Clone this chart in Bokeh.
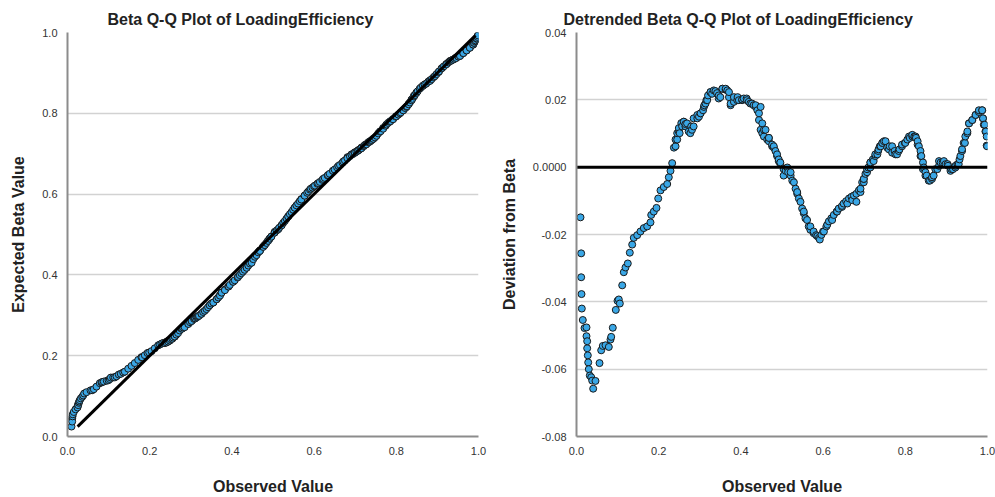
from bokeh.plotting import figure
from bokeh.layouts import row
from bokeh.models import Span, FixedTicker, PrintfTickFormatter, ColumnDataSource
from bokeh.embed import file_html
from bokeh.resources import INLINE

# Observed values and their deviation from the fitted Beta quantiles,
# read from the detrended plot (first pass: whole curve)
observed_a = [
    0.0097, 0.0114, 0.0114, 0.0122, 0.0129, 0.0153, 0.0195, 0.0243, 0.0243, 0.0260,
    0.0260, 0.0275, 0.0285, 0.0299, 0.0324, 0.0358, 0.0382, 0.0406, 0.0462, 0.0560,
    0.0601, 0.0640, 0.0706, 0.0786, 0.0827, 0.0844, 0.0883, 0.0956, 0.0998, 0.1029,
    0.1054, 0.1112, 0.1151, 0.1192, 0.1248, 0.1297, 0.1355, 0.1394, 0.1477, 0.1557,
    0.1637, 0.1720, 0.1800, 0.1818, 0.1881, 0.1946, 0.1988, 0.2044, 0.2124, 0.2207,
    0.2246, 0.2287, 0.2328,
    0.241, 0.245, 0.251, 0.257, 0.261, 0.269, 0.277, 0.285, 0.294, 0.302,
    0.310, 0.318, 0.326, 0.338, 0.346, 0.355, 0.367, 0.375, 0.383, 0.395,
    0.407, 0.419, 0.431, 0.440, 0.444, 0.448, 0.456, 0.468, 0.480, 0.488,
    0.496, 0.504, 0.515, 0.525, 0.533, 0.541, 0.549, 0.557, 0.565, 0.577,
    0.590, 0.602, 0.614, 0.626, 0.638, 0.650, 0.663, 0.675, 0.687, 0.695,
    0.703, 0.715, 0.727, 0.740, 0.748, 0.756, 0.768, 0.780, 0.792, 0.805,
    0.817, 0.826, 0.833, 0.839, 0.845, 0.852, 0.860, 0.869, 0.878, 0.886,
    0.898, 0.910, 0.922, 0.932, 0.938, 0.945, 0.951, 0.955, 0.963, 0.971,
    0.979, 0.987, 0.989, 0.991, 0.995, 0.998, 0.999,
]
deviation_a = [
    -0.0149, -0.0256, -0.0327, -0.0377, -0.0420, -0.0454, -0.0478, -0.0476, -0.0502, -0.0517,
    -0.0538, -0.0559, -0.0580, -0.0600, -0.0619, -0.0624, -0.0634, -0.0658, -0.0635, -0.0582,
    -0.0544, -0.0531, -0.0529, -0.0534, -0.0512, -0.0504, -0.0477, -0.0424, -0.0397, -0.0393,
    -0.0405, -0.0351, -0.0312, -0.0298, -0.0286, -0.0254, -0.0230, -0.0210, -0.0202, -0.0191,
    -0.0181, -0.0176, -0.0164, -0.0142, -0.0132, -0.0121, -0.0093, -0.0069, -0.0059, -0.0050,
    -0.0030, -0.0011, 0.0012,
    0.0062, 0.0082, 0.0101, 0.0121, 0.0135, 0.0130, 0.0101, 0.0121, 0.0145, 0.0160,
    0.0179, 0.0199, 0.0223, 0.0226, 0.0213, 0.0233, 0.0228, 0.0189, 0.0208, 0.0199,
    0.0204, 0.0194, 0.0184, 0.0169, 0.0140, 0.0111, 0.0091, 0.0077, 0.0058, 0.0033,
    0.0009, -0.0006, -0.0015, -0.0040, -0.0064, -0.0093, -0.0123, -0.0152, -0.0176, -0.0196,
    -0.0210, -0.0191, -0.0161, -0.0142, -0.0123, -0.0108, -0.0093, -0.0084, -0.0069, -0.0045,
    -0.0020, 0.0014, 0.0038, 0.0062, 0.0077, 0.0058, 0.0062, 0.0038, 0.0062, 0.0082,
    0.0091, 0.0087, 0.0062, 0.0033, -0.0001, -0.0025, -0.0040, -0.0025, -0.0006, 0.0014,
    0.0009, -0.0011, 0.0004, 0.0023, 0.0048, 0.0072, 0.0101, 0.0130, 0.0140, 0.0155,
    0.0169, 0.0169, 0.0145, 0.0126, 0.0106, 0.0091, 0.0062,
]

# Second reading pass over the dense part of the curve (x >= 0.23)
observed_b = [
    0.237, 0.241, 0.245, 0.249, 0.255, 0.261, 0.265, 0.273, 0.279, 0.285,
    0.294, 0.302, 0.308, 0.311, 0.316, 0.320, 0.326, 0.334, 0.346, 0.350,
    0.355, 0.363, 0.371, 0.375, 0.383, 0.392, 0.403, 0.414, 0.423, 0.436,
    0.444, 0.448, 0.452, 0.456, 0.460, 0.468, 0.468, 0.476, 0.480, 0.484,
    0.488, 0.492, 0.496, 0.504, 0.513, 0.521, 0.529, 0.537, 0.545, 0.553,
    0.561, 0.569, 0.577, 0.586, 0.592, 0.600, 0.610, 0.622, 0.634, 0.646,
    0.659, 0.671, 0.681, 0.691, 0.691, 0.699, 0.699, 0.707, 0.707, 0.715,
    0.715, 0.723, 0.727, 0.732, 0.735, 0.738, 0.744, 0.752, 0.760, 0.768,
    0.776, 0.784, 0.792, 0.800, 0.809, 0.817, 0.825, 0.830, 0.837, 0.843,
    0.849, 0.857, 0.865, 0.873, 0.882, 0.894, 0.903, 0.912, 0.922, 0.930,
    0.934, 0.938, 0.942, 0.946, 0.951, 0.955, 0.963, 0.971, 0.979, 0.987,
    0.989, 0.993, 0.996, 0.998,
]
deviation_b = [
    0.0058, 0.0082, 0.0101, 0.0116, 0.0131, 0.0135, 0.0121, 0.0106, 0.0121, 0.0145,
    0.0155, 0.0160, 0.0169, 0.0184, 0.0199, 0.0213, 0.0223, 0.0228, 0.0204, 0.0208,
    0.0233, 0.0233, 0.0223, 0.0184, 0.0194, 0.0208, 0.0199, 0.0204, 0.0189, 0.0184,
    0.0160, 0.0179, 0.0130, 0.0111, 0.0111, 0.0087, 0.0087, 0.0067, 0.0062, 0.0048,
    0.0038, 0.0018, 0.0014, -0.0025, -0.0001, -0.0015, -0.0045, -0.0074, -0.0103, -0.0132,
    -0.0157, -0.0176, -0.0191, -0.0205, -0.0215, -0.0191, -0.0171, -0.0157, -0.0132, -0.0118,
    -0.0108, -0.0098, -0.0103, -0.0074, -0.0064, -0.0045, -0.0035, -0.0015, -0.0006, -0.0001,
    0.0014, 0.0018, 0.0033, 0.0038, 0.0053, 0.0062, 0.0072, 0.0077, 0.0053, 0.0043,
    0.0038, 0.0048, 0.0067, 0.0072, 0.0091, 0.0096, 0.0091, 0.0067, 0.0033, -0.0006,
    -0.0025, -0.0040, -0.0030, -0.0006, 0.0018, 0.0018, 0.0009, -0.0006, -0.0001, 0.0009,
    0.0033, 0.0053, 0.0072, 0.0091, 0.0106, 0.0130, 0.0140, 0.0155, 0.0164, 0.0169,
    0.0145, 0.0126, 0.0106, 0.0064,
]

# Third reading pass along the centre of the dense band
observed_c = [
    0.249, 0.265, 0.281, 0.298, 0.314, 0.330, 0.342, 0.363, 0.371, 0.391,
    0.403, 0.415, 0.427, 0.436, 0.452, 0.464, 0.476, 0.492, 0.509, 0.521,
    0.537, 0.553, 0.569, 0.583, 0.596, 0.608, 0.620, 0.633, 0.646, 0.656,
    0.669, 0.681, 0.699, 0.710, 0.721, 0.734, 0.744, 0.762, 0.774, 0.786,
    0.799, 0.811, 0.822, 0.830, 0.837, 0.843, 0.849, 0.865, 0.882, 0.891,
    0.904, 0.916, 0.927,
]
deviation_c = [
    0.0106, 0.0128, 0.0111, 0.0150, 0.0189, 0.0218, 0.0220, 0.0230, 0.0208, 0.0199,
    0.0201, 0.0199, 0.0189, 0.0179, 0.0101, 0.0082, 0.0062, 0.0023, -0.0011, -0.0025,
    -0.0079, -0.0137, -0.0186, -0.0202, -0.0201, -0.0176, -0.0152, -0.0132, -0.0115, -0.0101,
    -0.0088, -0.0079, -0.0035, -0.0001, 0.0023, 0.0048, 0.0072, 0.0062, 0.0048, 0.0053,
    0.0072, 0.0087, 0.0091, 0.0077, 0.0048, 0.0014, -0.0015, -0.0035, 0.0004, 0.0014,
    0.0004, -0.0006, 0.0009,
]

left_ticks = [0.0, 0.2, 0.4, 0.6, 0.8, 1.0]
right_yticks = [-0.08, -0.06, -0.04, -0.02, 0.0, 0.02, 0.04]
right_ylabels = ["-0.08", "-0.06", "-0.04", "-0.02", "0.0000", "0.02", "0.04"]

FONT = "Liberation Sans"
FILL = "#3aa7e6"
EDGE = "#1a1a1a"

pairs = sorted(zip(observed_a + observed_b + observed_c,
                   deviation_a + deviation_b + deviation_c))
observed = [o for o, _ in pairs]
deviation = [d for _, d in pairs]
# Expected Beta quantile = observed - deviation
expected = [o - d for o, d in pairs]

src = ColumnDataSource(dict(observed=observed, expected=expected, deviation=deviation))


def style(p):
    p.background_fill_color = "white"
    p.border_fill_color = "white"
    p.outline_line_color = None
    p.xgrid.visible = False
    p.ygrid.grid_line_color = "#d2d2d2"
    p.ygrid.grid_line_width = 1.5
    for ax in (p.xaxis, p.yaxis):
        ax.axis_line_color = "#8c8c8c"
        ax.axis_line_width = 2
        ax.major_tick_line_color = None
        ax.minor_tick_line_color = None
        ax.major_label_text_font = FONT
        ax.major_label_text_font_size = "11px"
        ax.major_label_text_color = "#333333"
        ax.major_label_standoff = 4
        ax.axis_label_text_font = FONT
        ax.axis_label_text_font_size = "16px"
        ax.axis_label_text_font_style = "bold"
        ax.axis_label_text_color = "#222222"
    p.xaxis.axis_label_standoff = 20
    p.yaxis.axis_label_standoff = 12
    p.title.text_font = FONT
    p.title.text_font_size = "16px"
    p.title.text_font_style = "bold"
    p.title.text_color = "#222222"
    p.title.align = "left"


# Left: Q-Q plot
p1 = figure(width=495, height=497, x_range=(0, 1), y_range=(0, 1),
            output_backend="svg", toolbar_location=None,
            min_border_left=67, min_border_right=17, min_border_top=32, min_border_bottom=55,
            title="Beta Q-Q Plot of LoadingEfficiency",
            x_axis_label="Observed Value", y_axis_label="Expected Beta Value")
style(p1)
p1.title.offset = 40
p1.xaxis.ticker = FixedTicker(ticks=left_ticks)
p1.yaxis.ticker = FixedTicker(ticks=left_ticks)
p1.xaxis.formatter = PrintfTickFormatter(format="%.1f")
p1.yaxis.formatter = PrintfTickFormatter(format="%.1f")
p1.scatter("observed", "expected", source=src, size=7, fill_color=FILL,
           line_color=EDGE, line_width=1)
lo, hi = min(expected), max(expected)
p1.line([lo, hi], [lo, hi], line_color="black", line_width=3)

# Right: detrended Q-Q plot
p2 = figure(width=500, height=497, x_range=(0, 1), y_range=(-0.08, 0.04),
            output_backend="svg", toolbar_location=None,
            min_border_left=81, min_border_right=8, min_border_top=32, min_border_bottom=55,
            title="Detrended Beta Q-Q Plot of LoadingEfficiency",
            x_axis_label="Observed Value", y_axis_label="Deviation from Beta")
style(p2)
p2.title.offset = -13
p2.xaxis.ticker = FixedTicker(ticks=left_ticks)
p2.xaxis.formatter = PrintfTickFormatter(format="%.1f")
p2.yaxis.ticker = FixedTicker(ticks=right_yticks)
p2.yaxis.major_label_overrides = {t: l for t, l in zip(right_yticks, right_ylabels)}
zero = Span(location=0, dimension="width", line_color="black", line_width=3, level="glyph")
p2.add_layout(zero)
p2.scatter("observed", "deviation", source=src, size=7, fill_color=FILL,
           line_color=EDGE, line_width=1)

layout = row(p1, p2)
open("out.html", "w").write(file_html(layout, INLINE))
